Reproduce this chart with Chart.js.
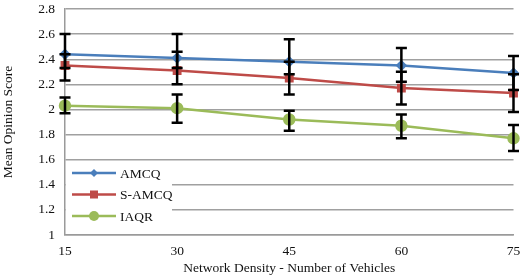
<!DOCTYPE html>
<html>
<head>
<meta charset="utf-8">
<script src="https://cdn.jsdelivr.net/npm/chart.js@4/dist/chart.umd.min.js"></script>
<style>
  html, body { margin: 0; padding: 0; background: #fff; }
  #wrap { width: 521px; height: 277px; }
</style>
</head>
<body>
<div id="wrap"><canvas id="grafico"></canvas></div>
<script>
// Dados
const vehicles = ['15', '30', '45', '60', '75'];
const amcq = [2.44, 2.41, 2.38, 2.35, 2.29];
const samcq = [2.35, 2.31, 2.25, 2.17, 2.13];
const iaqr = [2.03, 2.01, 1.92, 1.87, 1.77];

// limites das barras de erro (min, max)
const amcqLow = [2.33, 2.33, 2.28, 2.22, 2.155];
const amcqHigh = [2.60, 2.60, 2.56, 2.49, 2.425];
const samcqLow = [2.23, 2.20, 2.12, 2.04, 1.98];
const samcqHigh = [2.44, 2.46, 2.38, 2.30, 2.28];
const iaqrLow = [1.97, 1.895, 1.83, 1.77, 1.67];
const iaqrHigh = [2.095, 2.12, 1.99, 1.96, 1.876];

const yTicks = { min: 1, max: 2.8, step: 0.2 };

const serif = "'Liberation Serif', 'Times New Roman', serif";

const errorBars = {
    id: 'errorBars',
    afterDatasetsDraw(chart) {
        const ctx = chart.ctx;
        const x = chart.scales.x;
        const y = chart.scales.y;
        ctx.save();
        ctx.strokeStyle = '#000';
        ctx.lineWidth = 2.5;
        chart.data.datasets.forEach(ds => {
            ds.errLow.forEach((lo, i) => {
                const px = x.getPixelForValue(i);
                const y1 = y.getPixelForValue(lo);
                const y2 = y.getPixelForValue(ds.errHigh[i]);
                ctx.beginPath();
                ctx.moveTo(px, y1); ctx.lineTo(px, y2);
                ctx.moveTo(px - 5.5, y1); ctx.lineTo(px + 5.5, y1);
                ctx.moveTo(px - 5.5, y2); ctx.lineTo(px + 5.5, y2);
                ctx.stroke();
            });
        });
        ctx.restore();
    }
};

const insideLegend = {
    id: 'insideLegend',
    afterDraw(chart) {
        const ctx = chart.ctx;
        const area = chart.chartArea;
        const left = area.left + 1;
        const top = area.bottom - 71;
        ctx.save();
        ctx.fillStyle = '#fff';
        ctx.fillRect(left, top, 106, 60);
        ctx.font = '13.5px ' + serif;
        ctx.textBaseline = 'middle';
        chart.data.datasets.forEach((ds, i) => {
            const cy = top + 9 + i * 21.5;
            ctx.strokeStyle = ds.borderColor;
            ctx.lineWidth = 2.5;
            ctx.beginPath();
            ctx.moveTo(left + 6, cy); ctx.lineTo(left + 50, cy);
            ctx.stroke();
            ctx.fillStyle = ds.borderColor;
            const mx = left + 28;
            if (ds.pointStyle === 'rectRot') {
                ctx.beginPath();
                ctx.moveTo(mx, cy - 4); ctx.lineTo(mx + 4, cy);
                ctx.lineTo(mx, cy + 4); ctx.lineTo(mx - 4, cy);
                ctx.closePath(); ctx.fill();
            } else if (ds.pointStyle === 'rect') {
                ctx.fillRect(mx - 4, cy - 4, 8, 8);
            } else {
                ctx.beginPath();
                ctx.arc(mx, cy, 5, 0, Math.PI * 2);
                ctx.fill();
            }
            ctx.fillStyle = '#111';
            ctx.fillText(ds.label, left + 54, cy + 1);
        });
        ctx.restore();
    }
};

function serie(label, data, low, high, color, style, radius) {
    return {
        label: label,
        data: data,
        errLow: low,
        errHigh: high,
        borderColor: color,
        backgroundColor: color,
        borderWidth: 2.5,
        pointStyle: style,
        pointRadius: radius,
        pointHoverRadius: radius,
        tension: 0
    };
}

window.onload = function() {
    const ctx = document.getElementById('grafico').getContext('2d');
    new Chart(ctx, {
        type: 'line',
        data: {
            labels: vehicles,
            datasets: [
                serie('AMCQ', amcq, amcqLow, amcqHigh, '#4A7EBB', 'rectRot', 4),
                serie('S-AMCQ', samcq, samcqLow, samcqHigh, '#BE4B48', 'rect', 4.5),
                serie('IAQR', iaqr, iaqrLow, iaqrHigh, '#9BBB59', 'circle', 5)
            ]
        },
        options: {
            responsive: true,
            maintainAspectRatio: false,
            animation: false,
            layout: { padding: { top: 9, right: 6, left: 0, bottom: 0 } },
            plugins: {
                legend: { display: false },
                tooltip: { enabled: false }
            },
            scales: {
                x: {
                    offset: false,
                    grid: { display: false, drawTicks: false },
                    border: { color: '#9A9A9A', width: 1.5 },
                    ticks: { color: '#111', font: { family: serif, size: 13.5 }, padding: 8, maxRotation: 0 },
                    title: { display: true, text: 'Network Density - Number of Vehicles', color: '#111',
                             font: { family: serif, size: 13.5 }, padding: { top: 2, bottom: 0 } },
                    afterFit(scale) {
                        scale.height = 42;
                        scale.paddingRight = 0;
                        scale.paddingLeft = 0;
                    }
                },
                y: {
                    min: yTicks.min,
                    max: yTicks.max,
                    ticks: {
                        stepSize: yTicks.step, color: '#111', font: { family: serif, size: 13.5 }, padding: 10,
                        callback: v => String(parseFloat(Number(v).toFixed(1)))
                    },
                    grid: { color: '#A0A0A0', lineWidth: 1.4, drawTicks: false },
                    border: { color: '#9A9A9A', width: 1.5 },
                    title: { display: true, text: 'Mean Opinion Score', color: '#111',
                             font: { family: serif, size: 13.5 }, padding: { top: 0, bottom: 7 } },
                    afterFit(scale) {
                        scale.width = 65;
                        scale.paddingTop = 0;
                        scale.paddingBottom = 0;
                    }
                }
            }
        },
        plugins: [errorBars, insideLegend]
    });
};
</script>
</body>
</html>
